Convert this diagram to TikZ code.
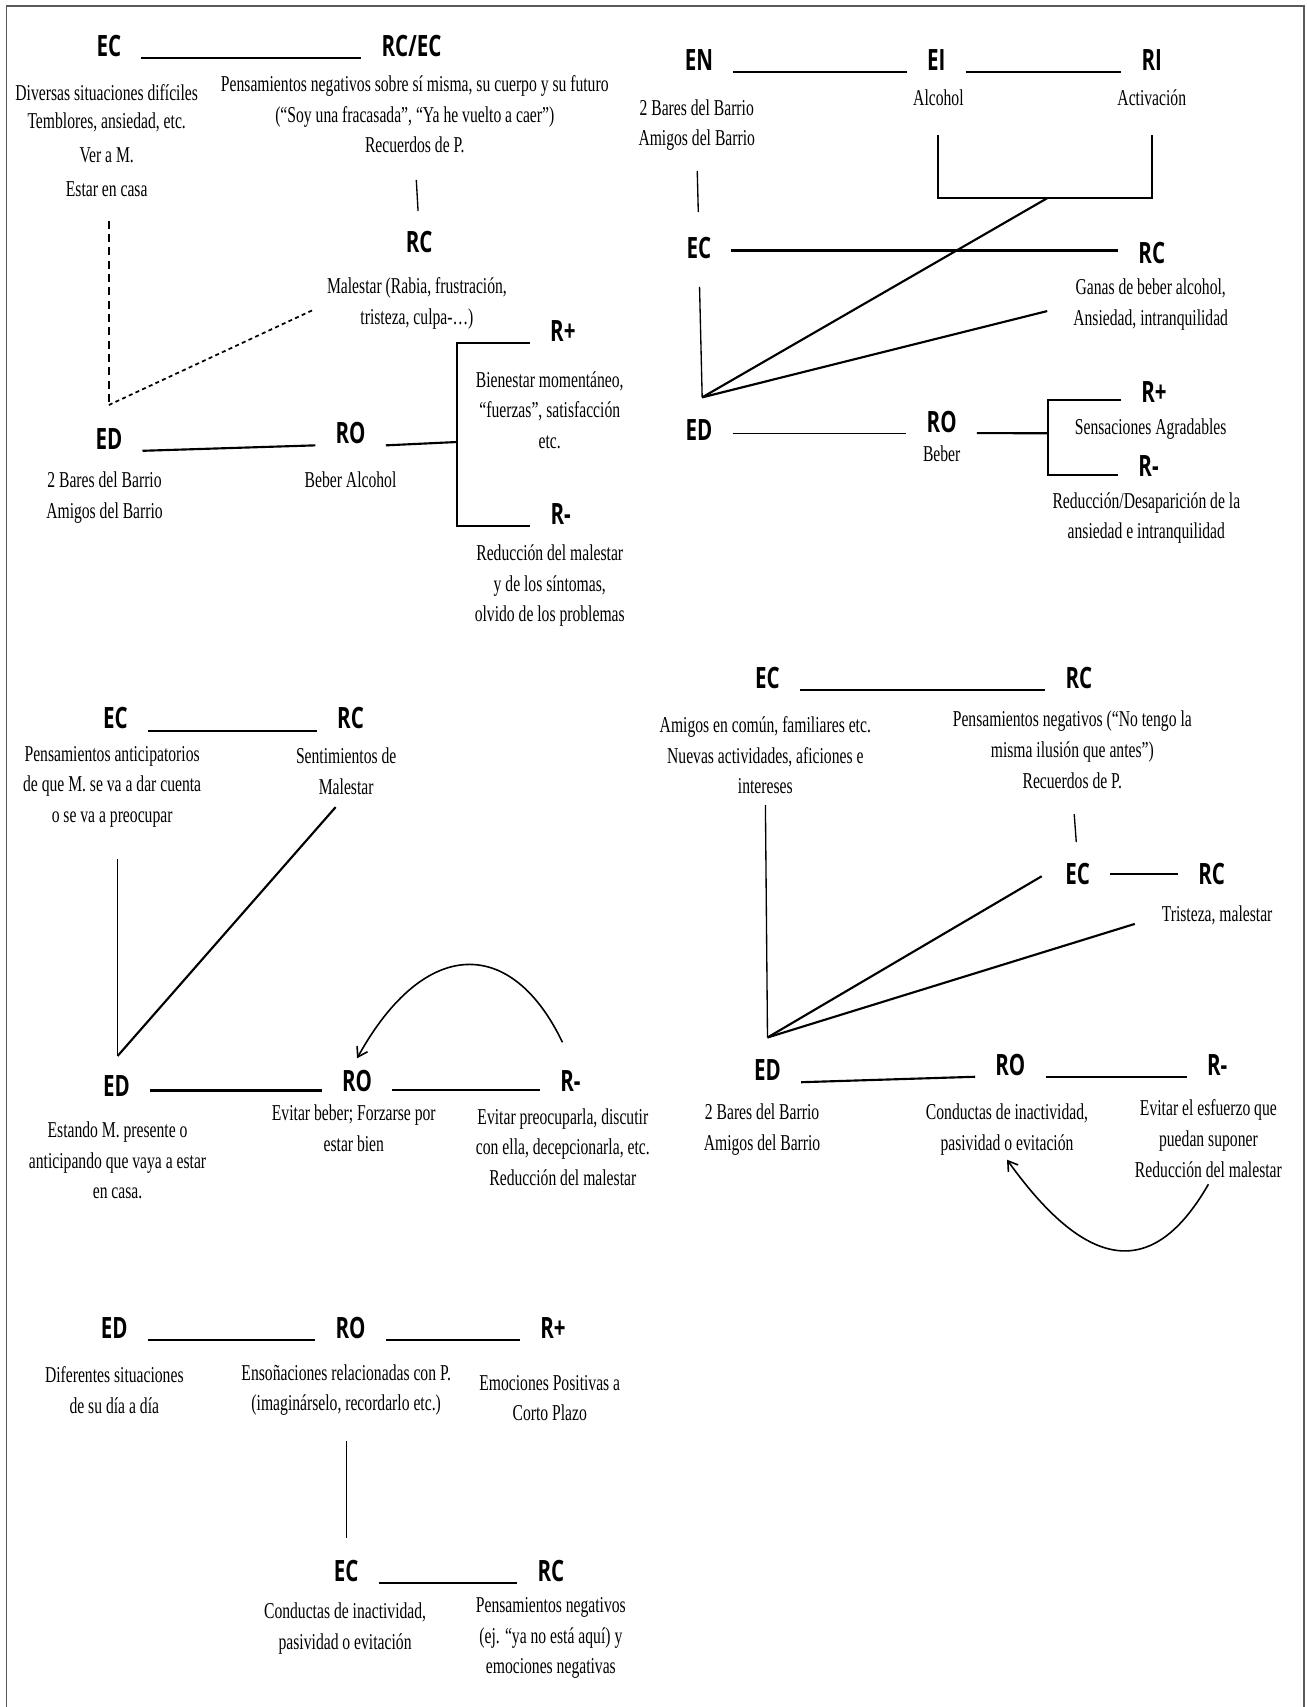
\documentclass[tikz,border=0pt]{standalone}
\usepackage{fontspec}
\setmainfont[FakeStretch=0.69]{Liberation Serif}
\newfontfamily\labfont[FakeStretch=0.7]{Open Sans}
\usetikzlibrary{arrows.meta}

\tikzset{
  lab/.style={font=\labfont\bfseries\fontsize{22}{24}\selectfont, inner xsep=15pt, inner ysep=1pt, text height=15.7pt, text depth=0pt},
  txt/.style={font=\fontsize{17}{23}\selectfont, align=center, inner sep=0pt, anchor=north},
  link/.style={line width=1.6pt},
  thinlink/.style={line width=1pt},
  arr/.style={line width=1.2pt, -{Straight Barb[length=7pt,width=9pt,line width=1.2pt]}}
}

\begin{document}
\begin{tikzpicture}[x=0.8162pt, y=-0.8162pt]
\useasboundingbox (0,0) rectangle (1200,1568);
\draw[line width=1.3pt, black!65] (6,1568) |- (1198,5.5) -- (1198,1568);

% top left
\node[lab] (ec1) at (100,42) {EC};
\node[lab] (rcec1) at (378,42) {RC/EC};
\node[txt] (ec1t) at (98,77) {Diversas situaciones difíciles\\[-2pt]Temblores, ansiedad, etc.\\[3pt]Ver a M.\\[2pt]Estar en casa};
\node[txt] (rcec1t) at (381,69) {Pensamientos negativos sobre sí misma, su cuerpo y su futuro\\(“Soy una fracasada”, “Ya he vuelto a caer”)\\Recuerdos de P.};
\node[lab] (rc1) at (385,222) {RC};
\node[txt] (rc1t) at (383,255) {Malestar (Rabia, frustración,\\tristeza, culpa-…)};
\node[lab] (ed1) at (100,403) {ED};
\node[lab] (ro1) at (322,398) {RO};
\node[txt] (ed1t) at (96,433) {2 Bares del Barrio\\Amigos del Barrio};
\node[txt] (ro1t) at (322,433) {Beber Alcohol};
\node[lab] (rp1) at (517,304) {R+};
\node[lab] (rm1) at (515,472) {R-};
\node[txt] (rp1t) at (505,341) {Bienestar momentáneo,\\“fuerzas”, satisfacción\\etc.};
\node[txt] (rm1t) at (505,500) {Reducción del malestar\\y de los síntomas,\\olvido de los problemas};
\coordinate (j1) at (100,372);
\coordinate (b1) at (420,406);

\draw[link] (ec1.south east) -- (rcec1.south west);
\draw[thinlink, shorten <=20pt, shorten >=14pt] (rcec1t.south) -- (rc1.north);
\draw[line width=1.3pt, dash pattern=on 6pt off 4pt, shorten <=18pt] (j1 |- ec1t.south) -- (j1);
\draw[line width=1.3pt, dash pattern=on 3pt off 2.5pt, shorten >=12pt] (j1) -- (rc1t.west);
\draw[link] (ed1.south east) -- (ro1.south west);
\draw[link] (ro1.south east) -- (b1);
\draw[link] (rp1.south west) -- (rp1.south west -| b1) -- (rm1.south west -| b1) -- (rm1.south west);

% top right
\node[lab] (en2) at (642,55) {EN};
\node[lab] (ei2) at (860,55) {EI};
\node[lab] (ri2) at (1058,55) {RI};
\node[txt] (ei2t) at (862,82) {Alcohol};
\node[txt] (ri2t) at (1058,82) {Activación};
\node[txt] (en2t) at (640,91) {2 Bares del Barrio\\Amigos del Barrio};
\node[lab] (ec2) at (642,228) {EC};
\node[lab] (rc2) at (1058,232) {RC};
\node[txt] (rc2t) at (1057,256) {Ganas de beber alcohol,\\Ansiedad, intranquilidad};
\node[lab] (ed2) at (642,395) {ED};
\node[lab] (ro2) at (865,388) {RO};
\node[txt] (ro2t) at (865,409) {Beber};
\node[lab] (rp2) at (1060,360) {R+};
\node[lab] (rm2) at (1055,428) {R-};
\node[txt] (rp2t) at (1057,384) {Sensaciones Agradables};
\node[txt] (rm2t) at (1053,452) {Reducción/Desaparición de la\\ansiedad e intranquilidad};
\coordinate (k2) at (962,182);
\coordinate (j2) at (645,365);
\coordinate (b2) at (963,398);

\draw[link] (en2.south east) -- (ei2.south west);
\draw[link] (ei2.south east) -- (ri2.south west);
\draw[link, shorten <=22pt, shorten >=22pt] (ei2t.south) |- (k2) -| (ri2t.south);
\draw[thinlink, shorten <=15pt, shorten >=18pt] (en2t.south) -- (ec2.north);
\draw[link, line width=2pt] ([yshift=-1.6pt]ec2.east) -- ([yshift=-1.6pt]ec2.east -| rc2.west);
\draw[thinlink, shorten <=20pt] (ec2.south) -- (j2);
\draw[link] (j2) -- (k2);
\draw[link, shorten >=20pt] (j2) -- (rc2t.west);
\draw[thinlink] ([yshift=-2.5pt]ed2.east) -- ([yshift=-2.5pt]ed2.east -| ro2.west);
\draw[link] ([yshift=-8pt]ro2.east) -- (b2);
\draw[link] ([yshift=-6pt]rp2.west) -| (b2) |- ([yshift=-7pt]rm2.west);

% middle left
\node[lab] (ec3) at (106,660) {EC};
\node[lab] (rc3) at (322,660) {RC};
\node[txt] (ec3t) at (103,685) {Pensamientos anticipatorios\\de que M. se va a dar cuenta\\o se va a preocupar};
\node[txt] (rc3t) at (318,687) {Sentimientos de\\Malestar};
\node[lab] (ed3) at (107,998) {ED};
\node[lab] (ro3) at (328,993) {RO};
\node[lab] (rm3) at (524,993) {R-};
\node[txt] (ed3t) at (108,1030) {Estando M. presente o\\anticipando que vaya a estar\\en casa.};
\node[txt] (ro3t) at (325,1015) {Evitar beber; Forzarse por\\estar bien};
\node[txt] (rm3t) at (517,1018) {Evitar preocuparla, discutir\\con ella, decepcionarla, etc.\\Reducción del malestar};
\coordinate (j3) at (108,970);

\draw[link] (ec3.south east) -- (rc3.south west);
\draw[thinlink, shorten <=24pt] (j3 |- ec3t.south) -- (j3);
\draw[link, shorten >=12pt] (j3) -- (rc3t.south);
\draw[link] ([yshift=-3pt]ed3.east) -- ([yshift=-3pt]ed3.east -| ro3.west);
\draw[link] ([yshift=-7pt]ro3.east) -- ([yshift=-7pt]ro3.east -| rm3.west);
\draw[arr] ([xshift=-6pt,yshift=20pt]rm3.north) .. controls (470,860) and (390,860) .. ([yshift=8pt]ro3.north);

% middle right
\node[lab] (ec4) at (705,623) {EC};
\node[lab] (rc4) at (991,623) {RC};
\node[txt] (ec4t) at (703,658) {Amigos en común, familiares etc.\\Nuevas actividades, aficiones e\\intereses};
\node[txt] (rc4t) at (985,653) {Pensamientos negativos (“No tengo la\\misma ilusión que antes”)\\Recuerdos de P.};
\node[lab] (ec4b) at (990,803) {EC};
\node[lab] (rc4b) at (1113,803) {RC};
\node[txt] (rc4bt) at (1118,832) {Tristeza, malestar};
\node[lab] (ed4) at (705,983) {ED};
\node[lab] (ro4) at (928,978) {RO};
\node[lab] (rm4) at (1118,978) {R-};
\node[txt] (ed4t) at (700,1014) {2 Bares del Barrio\\Amigos del Barrio};
\node[txt] (ro4t) at (925,1014) {Conductas de inactividad,\\pasividad o evitación};
\node[txt] (rm4t) at (1110,1010) {Evitar el esfuerzo que\\puedan suponer\\Reducción del malestar};
\coordinate (j4) at (705,953);

\draw[link] (ec4.south east) -- (rc4.south west);
\draw[thinlink, shorten <=19pt, shorten >=15pt] (rc4t.south) -- (ec4b.north);
\draw[link] (ec4b.east) -- (rc4b.west);
\draw[thinlink, shorten <=8pt] (ec4t.south) -- (j4);
\draw[link, shorten >=3pt] (j4) -- (ec4b.west);
\draw[link, shorten >=21pt] (j4) -- (rc4bt.west);
\draw[link] (ed4.south east) -- (ro4.south west);
\draw[link] (ro4.south east) -- (rm4.south west);
\draw[arr] ([yshift=-5pt]rm4t.south) .. controls (1060,1175) and (1000,1170) .. ([yshift=-3pt]ro4t.south);

% bottom
\node[lab] (ed5) at (105,1220) {ED};
\node[lab] (ro5) at (322,1220) {RO};
\node[lab] (rp5) at (508,1220) {R+};
\node[txt] (ed5t) at (105,1255) {Diferentes situaciones\\de su día a día};
\node[txt] (ro5t) at (318,1253) {Ensoñaciones relacionadas con P.\\(imaginárselo, recordarlo etc.)};
\node[txt] (rp5t) at (505,1263) {Emociones Positivas a\\Corto Plazo};
\node[lab] (ec5) at (318,1443) {EC};
\node[lab] (rc5) at (506,1443) {RC};
\node[txt] (ec5t) at (317,1472) {Conductas de inactividad,\\pasividad o evitación};
\node[txt] (rc5t) at (506,1467) {Pensamientos negativos\\(ej. “ya no está aquí) y\\emociones negativas};

\draw[link] (ed5.south east) -- (ro5.south west);
\draw[link] (ro5.south east) -- (rp5.south west);
\draw[thinlink, shorten <=19pt, shorten >=16pt] (ro5t.south) -- (ec5.north);
\draw[link] (ec5.south east) -- (rc5.south west);
\end{tikzpicture}
\end{document}
